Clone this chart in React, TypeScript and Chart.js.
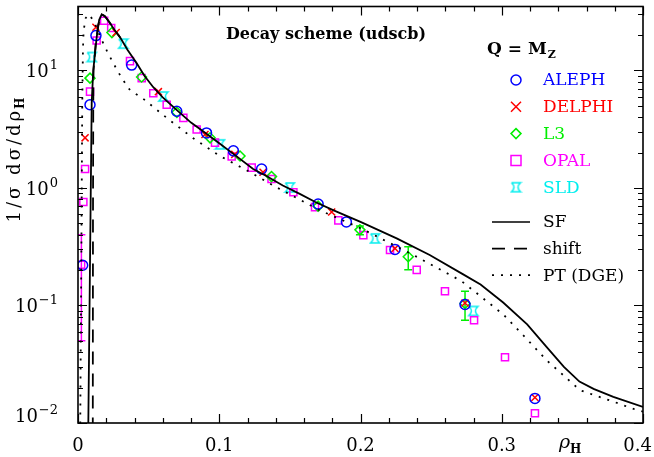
import React, { useEffect, useRef } from 'react';
import { Chart, registerables } from 'chart.js';

Chart.register(...registerables);

// ---------- axis ticks ----------
const xTickValues = [0, 0.1, 0.2, 0.3, 0.4];
const xTickLabels = ['0', '0.1', '0.2', '0.3', '0.4'];
const yTickValues = [0.01, 0.1, 1, 10];
const yTickExponents = ['\u22122', '\u22121', '0', '1'];

// ---------- theory curves ----------
const sfX = [0.006, 0.0073, 0.0097, 0.0108, 0.0132, 0.015, 0.0168, 0.019, 0.022, 0.026, 0.03, 0.035, 0.0416, 0.047, 0.0533, 0.06, 0.07, 0.08, 0.09, 0.1, 0.11, 0.124, 0.134, 0.145, 0.157, 0.168, 0.181, 0.2, 0.2256, 0.249, 0.273, 0.285, 0.301, 0.318, 0.332, 0.344, 0.355, 0.365, 0.379, 0.4];
const sfY = [0.001, 0.01, 5.3, 10, 19, 27, 30, 29, 26, 22, 19, 15, 11.5, 9, 7.2, 5.9, 4.6, 3.6, 2.95, 2.4, 1.95, 1.45, 1.25, 1.05, 0.89, 0.76, 0.645, 0.514, 0.372, 0.269, 0.183, 0.151, 0.106, 0.069, 0.044, 0.03, 0.0225, 0.0195, 0.0167, 0.0137];

const shiftX = [0.0104, 0.0106, 0.0108, 0.011, 0.0125, 0.0145, 0.0168, 0.019, 0.022, 0.026, 0.03];
const shiftY = [0.001, 0.5, 5, 10, 17, 25, 30, 29, 26, 22, 19];

const ptX = [0.0012, 0.0016, 0.0025, 0.003, 0.0035, 0.004, 0.0055, 0.008, 0.012, 0.016, 0.0203, 0.025, 0.031, 0.0368, 0.0457, 0.0628, 0.0812, 0.1005, 0.12, 0.1407, 0.1713, 0.2008, 0.2374, 0.2716, 0.301, 0.3176, 0.332, 0.3554, 0.379, 0.3955, 0.4];
const ptY = [0.001, 0.01, 0.5, 5, 15, 22, 28, 30, 25, 19, 14.8, 11.5, 8.6, 6.8, 5.8, 3.95, 2.67, 1.87, 1.4, 1.01, 0.645, 0.45, 0.269, 0.161, 0.084, 0.052, 0.034, 0.019, 0.0152, 0.0129, 0.0125];

// ---------- data ----------
const alephX = [0.0033, 0.0085, 0.0127, 0.038, 0.0699, 0.091, 0.11, 0.13, 0.17, 0.19, 0.2244, 0.274, 0.3235];
const alephY = [0.22, 5.1, 19.8, 11.1, 4.5, 2.94, 2.07, 1.45, 0.73, 0.514, 0.3, 0.102, 0.0162];

const delphiX = [0.005, 0.0127, 0.027, 0.0569, 0.0899, 0.111, 0.131, 0.1796, 0.2244, 0.274, 0.3235];
const delphiY = [2.67, 23.3, 21, 6.6, 2.85, 1.93, 1.36, 0.624, 0.306, 0.105, 0.0165];

const l3X = [0.0085, 0.024, 0.045, 0.07, 0.0935, 0.1147, 0.137, 0.17, 0.1996, 0.2338, 0.274];
const l3Y = [8.6, 21, 8.8, 4.4, 2.67, 1.87, 1.25, 0.7, 0.44, 0.26, 0.104];

const opalX = [0.0022, 0.0038, 0.005, 0.0085, 0.0132, 0.0185, 0.0235, 0.0368, 0.0451, 0.0533, 0.0628, 0.0746, 0.084, 0.097, 0.1088, 0.123, 0.137, 0.1525, 0.1678, 0.1843, 0.202, 0.2209, 0.2398, 0.2598, 0.2804, 0.3023, 0.3235];
const opalY = [0.222, 0.76, 1.45, 6.6, 18, 26.5, 23, 12, 8.6, 6.4, 5.1, 3.95, 3.14, 2.43, 1.85, 1.49, 1.19, 0.92, 0.687, 0.53, 0.397, 0.297, 0.201, 0.132, 0.075, 0.0363, 0.0121];

const sldX = [0.0097, 0.032, 0.0604, 0.1005, 0.15, 0.2103, 0.2799];
const sldY = [13, 16.9, 6.0, 2.35, 1.01, 0.372, 0.0898];

// error bars
const l3ErrX = [0.1996, 0.2338, 0.274];
const l3ErrLo = [0.4, 0.201, 0.075];
const l3ErrHi = [0.475, 0.316, 0.132];
const opalErrX = [0.0024];
const opalErrLo = [0.05];
const opalErrHi = [0.4];

const SERIF = '"DejaVu Serif", serif';
const BLUE = '#0000ff';
const RED = '#ff0000';
const GREEN = '#00ee00';
const MAGENTA = '#ff00ff';
const CYAN = '#00eeee';

function makeSldSymbol(color: string) {
  const c = document.createElement('canvas');
  c.width = 13;
  c.height = 13;
  const g = c.getContext('2d')!;
  g.strokeStyle = color;
  g.lineWidth = 1.5;
  const a = 2, b = 11, m = 6.5;
  g.beginPath();
  g.moveTo(a, a);
  g.lineTo(b, a);
  g.quadraticCurveTo(m - 0.5, m, b, b);
  g.lineTo(a, b);
  g.quadraticCurveTo(m + 0.5, m, a, a);
  g.stroke();
  return c;
}

const pts = (xs: number[], ys: number[]) => xs.map((x, i) => ({ x, y: ys[i] }));

function drawMarker(ctx: CanvasRenderingContext2D, style: string, x: number, y: number, color: string, sld?: HTMLCanvasElement) {
  ctx.save();
  ctx.strokeStyle = color;
  ctx.lineWidth = 1.5;
  ctx.beginPath();
  const r = 5;
  if (style === 'circle') {
    ctx.arc(x, y, r, 0, Math.PI * 2);
  } else if (style === 'cross') {
    ctx.moveTo(x - r, y - r); ctx.lineTo(x + r, y + r);
    ctx.moveTo(x + r, y - r); ctx.lineTo(x - r, y + r);
  } else if (style === 'diamond') {
    ctx.moveTo(x, y - r); ctx.lineTo(x + r, y); ctx.lineTo(x, y + r); ctx.lineTo(x - r, y); ctx.closePath();
  } else if (style === 'square') {
    ctx.rect(x - 5, y - 5, 10, 10);
  }
  ctx.stroke();
  if (style === 'sld' && sld) ctx.drawImage(sld, x - sld.width / 2, y - sld.height / 2);
  ctx.restore();
}

export default function App() {
  const ref = useRef<HTMLCanvasElement | null>(null);

  useEffect(() => {
    const canvas = ref.current;
    if (!canvas) return;
    const sldImg = makeSldSymbol(CYAN);

    const errorBars = [
      { color: GREEN, xs: l3ErrX, lo: l3ErrLo, hi: l3ErrHi },
      { color: MAGENTA, xs: opalErrX, lo: opalErrLo, hi: opalErrHi },
    ];

    const decor = {
      id: 'decor',
      beforeDatasetsDraw(chart: any) {
        const { ctx, chartArea: ca } = chart;
        const xs = chart.scales.x, ys = chart.scales.y;
        ctx.save();
        ctx.beginPath();
        ctx.rect(ca.left, ca.top, ca.right - ca.left, ca.bottom - ca.top);
        ctx.clip();
        ctx.lineWidth = 1.5;
        errorBars.forEach((eb) => {
          ctx.strokeStyle = eb.color;
          eb.xs.forEach((xv, i) => {
            const px = xs.getPixelForValue(xv);
            const p1 = ys.getPixelForValue(eb.lo[i]);
            const p2 = ys.getPixelForValue(eb.hi[i]);
            ctx.beginPath();
            ctx.moveTo(px, p1); ctx.lineTo(px, p2);
            ctx.moveTo(px - 4, p1); ctx.lineTo(px + 4, p1);
            ctx.moveTo(px - 4, p2); ctx.lineTo(px + 4, p2);
            ctx.stroke();
          });
        });
        ctx.restore();
      },
      afterDraw(chart: any) {
        const { ctx, chartArea: ca } = chart;
        const xs = chart.scales.x, ys = chart.scales.y;
        ctx.save();
        // frame
        ctx.strokeStyle = '#000';
        ctx.lineWidth = 1.6;
        ctx.strokeRect(ca.left, ca.top, ca.right - ca.left, ca.bottom - ca.top);
        // ticks
        ctx.lineWidth = 1.2;
        ctx.beginPath();
        for (let k = 0; k <= 20; k++) {
          const v = k * 0.02;
          const px = Math.round(xs.getPixelForValue(v)) + 0.5;
          const len = k % 5 === 0 ? 9 : 5;
          ctx.moveTo(px, ca.bottom); ctx.lineTo(px, ca.bottom - len);
          ctx.moveTo(px, ca.top); ctx.lineTo(px, ca.top + len);
        }
        for (let d = -2; d <= 1; d++) {
          for (let m = 1; m <= 9; m++) {
            const v = m * Math.pow(10, d);
            if (v > ys.max) break;
            const py = Math.round(ys.getPixelForValue(v)) + 0.5;
            const len = m === 1 ? 9 : 5;
            ctx.moveTo(ca.left, py); ctx.lineTo(ca.left + len, py);
            ctx.moveTo(ca.right, py); ctx.lineTo(ca.right - len, py);
          }
        }
        ctx.stroke();

        ctx.fillStyle = '#000';
        // x tick labels
        ctx.font = `18px ${SERIF}`;
        ctx.textBaseline = 'alphabetic';
        xTickValues.forEach((v, i) => {
          const px = xs.getPixelForValue(v);
          const w = ctx.measureText(xTickLabels[i]).width;
          let left = px - w / 2;
          if (left + w > 652) left = 652 - w;
          ctx.textAlign = 'left';
          ctx.fillText(xTickLabels[i], left, 451);
        });
        // y tick labels
        yTickValues.forEach((v, i) => {
          const py = ys.getPixelForValue(v);
          const base = Math.min(py + 7, ca.bottom - 1);
          ctx.font = `13px ${SERIF}`;
          const ew = ctx.measureText(yTickExponents[i]).width;
          ctx.textAlign = 'left';
          ctx.fillText(yTickExponents[i], 58 - ew, base - 8);
          ctx.font = `18px ${SERIF}`;
          ctx.textAlign = 'right';
          ctx.fillText('10', 58 - ew - 1, base);
        });

        // y axis title (rotated)
        ctx.save();
        ctx.translate(20, 158);
        ctx.rotate(-Math.PI / 2);
        (ctx as any).letterSpacing = '3px';
        ctx.font = `18px ${SERIF}`;
        const main = '1/\u03c3 d\u03c3/d\u03c1';
        const mw = ctx.measureText(main).width;
        ctx.font = `bold 12px ${SERIF}`;
        const hw = ctx.measureText('H').width;
        const total = mw + hw;
        ctx.textAlign = 'left';
        ctx.font = `18px ${SERIF}`;
        ctx.fillText(main, -total / 2, 0);
        ctx.font = `bold 12px ${SERIF}`;
        ctx.fillText('H', -total / 2 + mw - 1, 4);
        (ctx as any).letterSpacing = '0px';
        ctx.restore();

        // x axis title
        ctx.textAlign = 'left';
        ctx.font = `italic 19px ${SERIF}`;
        ctx.fillText('\u03c1', 559, 448);
        ctx.font = `bold 12px ${SERIF}`;
        ctx.fillText('H', 570, 453);

        // title
        ctx.font = `bold 16px ${SERIF}`;
        ctx.textAlign = 'center';
        ctx.fillText('Decay scheme (udscb)', 326, 39);

        // legend
        ctx.textAlign = 'left';
        ctx.font = `bold 17px ${SERIF}`;
        ctx.fillText('Q = M', 487, 54);
        const qw = ctx.measureText('Q = M').width;
        ctx.font = `bold 11px ${SERIF}`;
        ctx.fillText('Z', 487 + qw + 1, 58);

        const entries = [
          { label: 'ALEPH', color: BLUE, style: 'circle' },
          { label: 'DELPHI', color: RED, style: 'cross' },
          { label: 'L3', color: GREEN, style: 'diamond' },
          { label: 'OPAL', color: MAGENTA, style: 'square' },
          { label: 'SLD', color: CYAN, style: 'sld' },
        ];
        ctx.font = `17px ${SERIF}`;
        ctx.textBaseline = 'middle';
        entries.forEach((e, i) => {
          const cy = 80 + i * 26.8;
          drawMarker(ctx, e.style, 516, cy, e.color, sldImg);
          ctx.fillStyle = e.color;
          ctx.fillText(e.label, 543, cy + 1);
        });
        const lines = [
          { label: 'SF', dash: [] as number[] },
          { label: 'shift', dash: [13, 9] },
          { label: 'PT (DGE)', dash: [2, 7] },
        ];
        lines.forEach((l, i) => {
          const cy = 222 + i * 26.6;
          ctx.strokeStyle = '#000';
          ctx.lineWidth = 1.7;
          ctx.setLineDash(l.dash);
          ctx.beginPath();
          ctx.moveTo(492, cy); ctx.lineTo(530, cy);
          ctx.stroke();
          ctx.setLineDash([]);
          ctx.fillStyle = '#000';
          ctx.fillText(l.label, 543, cy + 1);
        });
        ctx.restore();
      },
    };

    const markerDs = (label: string, xs: number[], ys: number[], color: string, style: any) => ({
      label,
      data: pts(xs, ys),
      showLine: false,
      pointStyle: style,
      pointRadius: 5,
      pointBorderColor: color,
      pointBackgroundColor: 'rgba(0,0,0,0)',
      pointBorderWidth: 1.5,
      borderColor: color,
      backgroundColor: 'rgba(0,0,0,0)',
      order: 2,
    });
    const lineDs = (label: string, xs: number[], ys: number[], dash: number[], order: number) => ({
      label,
      data: pts(xs, ys),
      showLine: true,
      pointRadius: 0,
      borderColor: '#000',
      borderWidth: 1.8,
      borderDash: dash,
      fill: false,
      tension: 0,
      order,
    });

    const chart = new Chart(canvas, {
      type: 'scatter',
      data: {
        datasets: [
          lineDs('SF', sfX, sfY, [], 0),
          lineDs('shift', shiftX, shiftY, [13, 9], 1),
          lineDs('PT (DGE)', ptX, ptY, [2, 7], 1),
          markerDs('ALEPH', alephX, alephY, BLUE, 'circle'),
          markerDs('DELPHI', delphiX, delphiY, RED, 'crossRot'),
          markerDs('L3', l3X, l3Y, GREEN, 'rectRot'),
          markerDs('OPAL', opalX, opalY, MAGENTA, 'rect'),
          markerDs('SLD', sldX, sldY, CYAN, sldImg),
        ] as any,
      },
      options: {
        responsive: false,
        animation: false,
        devicePixelRatio: 1,
        layout: { padding: { top: 2, right: 11, left: 0, bottom: 0 } },
        plugins: { legend: { display: false }, tooltip: { enabled: false }, title: { display: false } },
        scales: {
          x: {
            type: 'linear', min: 0, max: 0.4,
            ticks: { display: false }, grid: { display: false }, border: { display: false },
            afterFit: (s: any) => { s.height = 34; },
          },
          y: {
            type: 'logarithmic', min: 0.01, max: 35,
            ticks: { display: false }, grid: { display: false }, border: { display: false },
            afterFit: (s: any) => { s.width = 78; },
          },
        },
      } as any,
      plugins: [decor],
    });
    return () => chart.destroy();
  }, []);

  return (
    <div style={{ position: 'fixed', left: 0, top: 0, width: 654, height: 457, background: '#fff' }}>
      <canvas ref={ref} width={654} height={457} style={{ display: 'block' }} />
    </div>
  );
}
